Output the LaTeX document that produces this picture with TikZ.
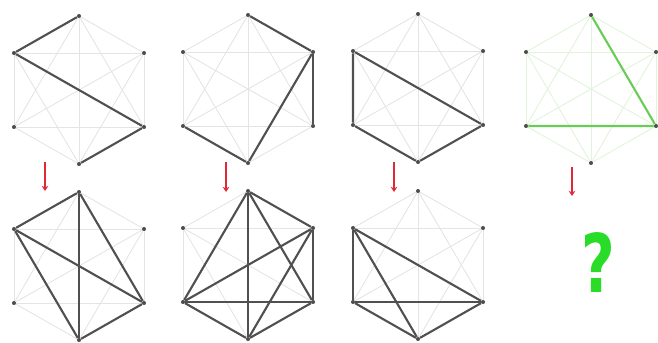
\documentclass[tikz,border=0pt]{standalone}
\usepackage{fontspec}
\setsansfont{DejaVu Sans}
\usepackage{tikz}
\usetikzlibrary{arrows, arrows.meta, positioning}
\definecolor{edgegray}{RGB}{80, 80, 80}
\definecolor{faintgray}{RGB}{228, 228, 228}
\definecolor{hintgreen}{RGB}{105, 205, 85}
\definecolor{faintgreen}{RGB}{225, 243, 218}
\definecolor{arrowred}{RGB}{225, 40, 55}
\definecolor{askgreen}{RGB}{40, 220, 40}

% six points of a hexagon, all 15 pairs joined faintly
\newcommand{\hexgraph}[4]{%
  \foreach \i/\dx/\dy in {1/0/-74, 2/65/-37, 3/65/37, 4/0/74, 5/-65/37, 6/-65/-37}
    \node[vertex] (#1\i) at (#2+\dx, #3+\dy) {};
  \foreach \i in {1,...,6}
    \foreach \j in {1,...,6}
      {\ifnum\i<\j \draw[faint, #4] (#1\i) -- (#1\j); \fi}
}

\begin{document}
\begin{tikzpicture}[x=0.02cm, y=-0.02cm, >=stealth,
    vertex/.style={circle, fill=black!70, inner sep=0pt, minimum size=2.3pt},
    faint/.style={line width=0.5pt, color=faintgray},
    bold/.style={line width=1.2pt, color=edgegray},
    boldgreen/.style={line width=1.2pt, color=hintgreen},
    down/.style={line width=1.6pt, color=arrowred, -{Stealth[length=3pt, width=3.8pt]}},
    ask/.style={font=\sffamily\bfseries\fontsize{46}{46}\selectfont, text=askgreen, xscale=0.72, inner sep=0pt}]

    \useasboundingbox (0,0) rectangle (658,342);

    % Top row
    \hexgraph{ta}{79}{90}{}
    \hexgraph{tb}{248}{89}{}
    \hexgraph{tc}{418}{88}{}
    \hexgraph{td}{591}{89}{faintgreen}

    % Bottom row
    \hexgraph{ba}{79}{266}{}
    \hexgraph{bb}{248}{265}{}
    \hexgraph{bc}{418}{265}{}

    % Given edges
    \draw[bold] (ta1) -- (ta6) -- (ta3) -- (ta4);
    \draw[bold] (tb5) -- (tb4) -- (tb2) -- (tb1);
    \draw[bold] (tb2) -- (tb3);
    \draw[bold] (tc6) -- (tc3) -- (tc4) -- (tc5) -- (tc6);
    \draw[boldgreen] (td1) -- (td3) -- (td5);

    % Completed edges
    \foreach \i/\j in {1/6, 1/3, 1/4, 6/3, 6/4, 3/4}
      \draw[bold] (ba\i) -- (ba\j);
    \foreach \i/\j in {1/2, 1/3, 1/4, 1/5, 2/3, 2/4, 2/5, 3/4, 3/5, 4/5}
      \draw[bold] (bb\i) -- (bb\j);
    \foreach \i/\j in {6/3, 6/4, 6/5, 3/4, 3/5, 4/5}
      \draw[bold] (bc\i) -- (bc\j);

    % Arrows
    \coordinate (aa) at (45,162);  \coordinate (ab) at (45,191);
    \coordinate (ba) at (226,162); \coordinate (bz) at (226,192);
    \coordinate (ca) at (394,162); \coordinate (cz) at (394,192);
    \coordinate (da) at (572,167); \coordinate (dz) at (572,196);
    \draw[down] (aa) -- (ab);
    \draw[down] (ba) -- (bz);
    \draw[down] (ca) -- (cz);
    \draw[down] (da) -- (dz);

    % Answer
    \node[ask] (answer) at (598,262) {?};
\end{tikzpicture}
\end{document}
